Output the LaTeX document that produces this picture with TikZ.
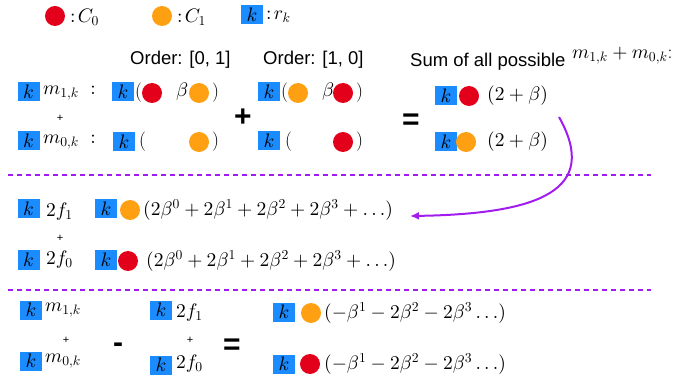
\documentclass[tikz,border=0pt]{standalone}
\usepackage{fontspec}
\DeclareFontShape{OML}{cmm}{m}{it}{<->cmmi10}{}
\DeclareFontShape{OMS}{cmsy}{m}{n}{<->cmsy10}{}
\DeclareFontShape{OT1}{cmr}{m}{n}{<->cmr10}{}
\DeclareFontShape{OMX}{cmex}{m}{n}{<->cmex10}{}
\newfontfamily\hv{Liberation Sans}
\usetikzlibrary{arrows.meta}
\definecolor{kblue}{HTML}{1A8CFF}
\definecolor{cred}{HTML}{E3001B}
\definecolor{corange}{HTML}{FFA012}
\definecolor{cpurple}{HTML}{A21CF0}
\tikzset{
  kbox/.style={fill=kblue,minimum width=22,minimum height=19,inner sep=0,font=\fontsize{19.5}{22}\selectfont},
  rdot/.style={circle,fill=cred,minimum size=20,inner sep=0},
  odot/.style={circle,fill=corange,minimum size=20,inner sep=0},
  mt/.style={inner sep=0,anchor=west,font=\fontsize{19.5}{22}\selectfont},
  hvt/.style={inner sep=0,anchor=west,font=\hv\fontsize{18.5}{20}\selectfont},
  splus/.style={inner sep=0,font=\hv\fontsize{11}{12}\selectfont},
  bigop/.style={inner sep=0,font=\hv\bfseries\fontsize{30}{32}\selectfont},
  sep/.style={cpurple,line width=2,dash pattern=on 5 off 4},
  arc/.style={cpurple,line width=2,-{Latex[length=9,width=8]}}
}
\begin{document}
\begin{tikzpicture}[x=1pt,y=-1pt]
\useasboundingbox (0,0) rectangle (674,379);
% legend
\node[rdot] (l0) at (55,16) {};
\node[mt] (l0t) at (70,17) {$:\!C_0$};
\node[odot] (l1) at (162,16) {};
\node[mt] (l1t) at (177,17) {$:\!C_1$};
\node[kbox] (lk) at (252,15) {$k$};
\node[mt] (lkt) at (266,17) {$:\!r_k$};
% headers
\node[hvt] (h1) at (130,60) {Order: [0, 1]};
\node[hvt] (h2) at (263,60) {Order: [1, 0]};
\node[hvt] (h3) at (410,62) {Sum of all possible};
\node[mt] (h3m) at (572,56) {$m_{1,k}+m_{0,k}$:};
% row 1
\node[kbox] (k1) at (28.5,92) {$k$};
\node[mt] (m1) at (43,93) {$m_{1,k}\ :$};
\node[kbox] (k1a) at (123,92) {$k$};
\node[mt] (p1a) at (135,93) {(};
\node[rdot] (d1a) at (152,93) {};
\node[mt] (b1a) at (176,92) {$\beta$};
\node[odot] (e1a) at (199,93) {};
\node[mt] (q1a) at (212,93) {)};
\node[kbox] (k1b) at (269,92) {$k$};
\node[mt] (p1b) at (281,93) {(};
\node[odot] (d1b) at (298,93) {};
\node[mt] (b1b) at (322,92) {$\beta$};
\node[rdot] (e1b) at (343,93) {};
\node[mt] (q1b) at (356,93) {)};
\node[splus] (pl1) at (60,118) {+};
\node[bigop] (bp) at (243,118) {+};
% row 2
\node[kbox] (k2) at (28.5,141) {$k$};
\node[mt] (m2) at (43,142) {$m_{0,k}\ :$};
\node[kbox] (k2a) at (124,142) {$k$};
\node[mt] (p2a) at (139,142) {(};
\node[odot] (e2a) at (199,142) {};
\node[mt] (q2a) at (212,142) {)};
\node[kbox] (k2b) at (269,141) {$k$};
\node[mt] (p2b) at (285,142) {(};
\node[rdot] (e2b) at (343,142) {};
\node[mt] (q2b) at (356,142) {)};
\node[bigop] (eq1) at (411,122) {=};
\node[kbox] (kr1) at (446,96) {$k$};
\node[rdot] (dr1) at (469,96) {};
\node[mt] (fr1) at (487,96) {$(2+\beta)$};
\node[kbox] (kr2) at (446,142) {$k$};
\node[odot] (dr2) at (466,142) {};
\node[mt] (fr2) at (487,142) {$(2+\beta)$};
% separator 1 and arc
\coordinate (s1a) at (8,175);
\coordinate (s1b) at (651,175);
\draw[sep] (s1a) -- (s1b);
\coordinate (as) at (559,117);
\coordinate (ae) at (410,216);
\draw[arc] (as) .. controls (600,190) and (540,214) .. (ae);
% row 3/4
\node[kbox] (k3) at (28.5,209) {$k$};
\node[mt] (f3) at (46,212) {$2f_1$};
\node[kbox] (k3a) at (106,209) {$k$};
\node[odot] (d3) at (130,210) {};
\node[mt] (s3) at (143,210) {$(2\beta^0+2\beta^1+2\beta^2+2\beta^3+\dots)$};
\node[splus] (pl3) at (60,238) {+};
\node[kbox] (k4) at (28.5,260) {$k$};
\node[mt] (f4) at (46,260) {$2f_0$};
\node[kbox] (k4a) at (106,260) {$k$};
\node[rdot] (d4) at (128,261) {};
\node[mt] (s4) at (146,261) {$(2\beta^0+2\beta^1+2\beta^2+2\beta^3+\dots)$};
% separator 2
\coordinate (s2a) at (8,290);
\coordinate (s2b) at (651,290);
\draw[sep] (s2a) -- (s2b);
% row 5/6
\node[kbox] (k5) at (31,310) {$k$};
\node[mt] (m5) at (45,310) {$m_{1,k}$};
\node[splus] (pl5) at (66,340) {+};
\node[kbox] (k6) at (31,361) {$k$};
\node[mt] (m6) at (45,361) {$m_{0,k}$};
\node[bigop] (mi) at (118,348) {-};
\node[kbox] (k5b) at (161,310) {$k$};
\node[mt] (f5) at (176,313) {$2f_1$};
\node[splus] (pl5b) at (190,340) {+};
\node[kbox] (k6b) at (161,365) {$k$};
\node[mt] (f6) at (176,364) {$2f_0$};
\node[bigop] (eq2) at (232,347) {=};
\node[kbox] (k5c) at (284,312) {$k$};
\node[odot] (d5) at (311,313) {};
\node[mt] (s5) at (324,313) {$(-\beta^1-2\beta^2-2\beta^3\dots)$};
\node[kbox] (k6c) at (284,364) {$k$};
\node[rdot] (d6) at (310,364) {};
\node[mt] (s6) at (324,364) {$(-\beta^1-2\beta^2-2\beta^3\dots)$};
\end{tikzpicture}
\end{document}
